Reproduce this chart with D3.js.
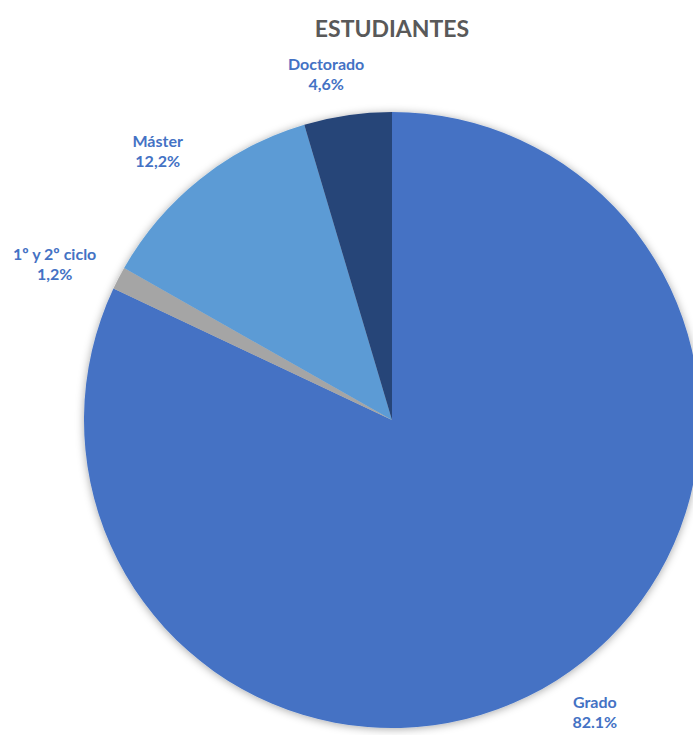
<!DOCTYPE html>
<html>
<head>
<meta charset="utf-8">
<script src="https://cdn.jsdelivr.net/npm/d3@7"></script>
<style>
  body { margin: 0; background: #fff; }
  text { font-family: Lato, "Open Sans", sans-serif; font-weight: bold; }
</style>
</head>
<body>
<div id="chart"></div>
<script>
// data
var categories = ["Grado", "1º y 2º ciclo", "Máster", "Doctorado"];
var values = [82.1, 1.2, 12.2, 4.6];
var valueLabels = ["82.1%", "1,2%", "12,2%", "4,6%"];
var colors = ["#4472C4", "#A5A5A5", "#5B9BD5", "#264478"];

var width = 693, height = 735;
var cx = 392, cy = 420, radius = 308;

var svg = d3.select("#chart").append("svg")
    .attr("width", width)
    .attr("height", height);

// soft shadow round the pie
var defs = svg.append("defs");
var filter = defs.append("filter")
    .attr("id", "shadow")
    .attr("x", "-10%").attr("y", "-10%")
    .attr("width", "120%").attr("height", "120%");
filter.append("feDropShadow")
    .attr("dx", 0).attr("dy", 1)
    .attr("stdDeviation", 4)
    .attr("flood-color", "#000")
    .attr("flood-opacity", 0.35);

svg.append("text")
    .attr("x", cx)
    .attr("y", 37)
    .attr("text-anchor", "middle")
    .attr("font-size", 23)
    .attr("fill", "#595959")
    .text("ESTUDIANTES");

var data = categories.map(function (c, i) {
    return { name: c, value: values[i], label: valueLabels[i], color: colors[i] };
});

var pie = d3.pie()
    .sort(null)
    .value(function (d) { return d.value; });

var arc = d3.arc().innerRadius(0).outerRadius(radius);

var g = svg.append("g")
    .attr("transform", "translate(" + cx + "," + cy + ")");

var slices = g.append("g").attr("filter", "url(#shadow)");
slices.selectAll("path")
    .data(pie(data))
    .enter()
    .append("path")
    .attr("d", arc)
    .attr("fill", function (d) { return d.data.color; });

// labels outside, box pushed out from the rim like the spreadsheet does
var labelGap = 18;
var labels = g.selectAll(".lbl")
    .data(pie(data))
    .enter()
    .append("text")
    .attr("class", "lbl")
    .attr("text-anchor", "middle")
    .attr("font-size", 16)
    .attr("fill", "#4472C4");
labels.append("tspan")
    .attr("x", 0).attr("y", 0)
    .text(function (d) { return d.data.name; });
labels.append("tspan")
    .attr("x", 0).attr("dy", "1.25em")
    .text(function (d) { return d.data.label; });

labels.attr("transform", function (d) {
    var bb = this.getBBox();
    var a = (d.startAngle + d.endAngle) / 2 - 2.5 * Math.PI / 180;
    var s = Math.sin(a), c = -Math.cos(a);
    var dist = radius + labelGap + Math.abs(s) * bb.width / 2 + Math.abs(c) * bb.height / 2;
    var x = s * dist - (bb.x + bb.width / 2);
    var y = c * dist - (bb.y + bb.height / 2);
    return "translate(" + x + "," + y + ")";
});
</script>
</body>
</html>
